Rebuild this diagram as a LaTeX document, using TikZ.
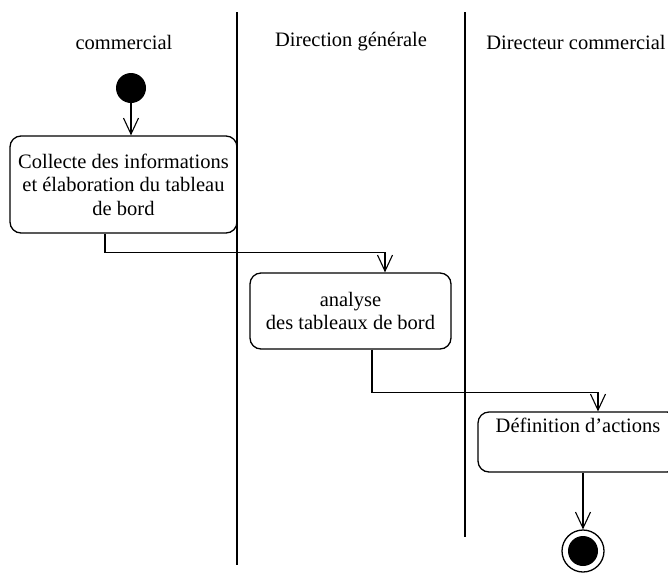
\documentclass[tikz,border=0pt]{standalone}
\usepackage{fontspec}
\setmainfont{Liberation Serif}
\usetikzlibrary{arrows.meta}
\begin{document}
\begin{tikzpicture}[x=1pt,y=1pt,
  every node/.style={font=\fontsize{20.5}{23.5}\selectfont},
  activity/.style={draw, line width=1.3pt, rounded corners=11pt, align=center, inner sep=4pt},
  flow/.style={line width=1.1pt, -{Straight Barb[length=16pt,width=15pt,line width=1.1pt]}},
  lane/.style={line width=1.1pt}]
\useasboundingbox (0,0) rectangle (668,-574);
% swimlane separators
\draw[lane] (237,-12) -- (237,-565);
\draw[lane] (465,-12) -- (465,-537);
% lane titles
\node (t1) at (124,-42) {commercial};
\node (t2) at (351,-42) {Direction générale};
\node (t3) at (576,-42) {Directeur commercial};
% start
\node[circle, fill=black, minimum size=30pt, inner sep=0pt] (start) at (131,-88) {};
% activities
\node[activity, minimum width=227pt, minimum height=97pt] (a1) at (123.5,-184.5)
  {Collecte des informations\\ et élaboration du tableau\\ de bord};
\node[activity, minimum width=201pt, minimum height=76pt] (a2) at (350.5,-311)
  {analyse\\ des tableaux de bord};
\node[activity, minimum width=200pt, text height=16pt, text depth=36pt] (a3) at (578,-442)
  {Définition d'actions};
% end
\node[circle, draw, line width=1.3pt, minimum size=42pt, inner sep=0pt] (end) at (583,-551) {};
\node[circle, fill=black, minimum size=30pt, inner sep=0pt] (endin) at (end) {};
% flows
\draw[flow] (start.south) -- (start.south |- a1.north);
\draw[flow] ([xshift=-18.5pt]a1.south) -- ++(0,-19) -| ([xshift=34.5pt]a2.north);
\draw[flow] ([xshift=21.5pt]a2.south) -- ++(0,-43) -| ([xshift=20pt]a3.north);
\draw[flow] (end.north |- a3.south) -- (end.north);
\end{tikzpicture}
\end{document}
